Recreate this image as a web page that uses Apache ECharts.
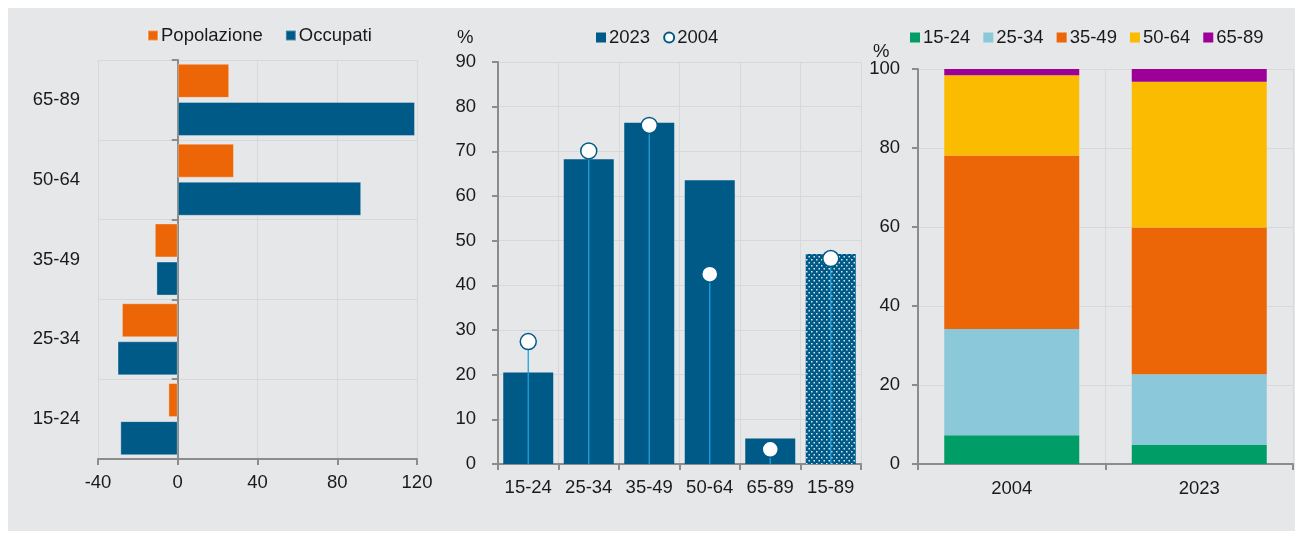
<!DOCTYPE html>
<html>
<head>
<meta charset="utf-8">
<script src="https://cdn.jsdelivr.net/npm/echarts@6/dist/echarts.min.js"></script>
<style>
html,body{margin:0;padding:0;background:#fff;}
#c{width:1295px;height:533px;}
</style>
</head>
<body>
<div id="c"></div>
<script>
// ---- Data ----
const ageGroups = ['15-24', '25-34', '35-49', '50-64', '65-89'];
const popolazione = [-4.7, -28, -11.5, 28.2, 25.8];
const occupati = [-28.8, -30.2, -10.7, 92, 119];
const xTicks1 = [-40, 0, 40, 80, 120];

const rateCats = ['15-24', '25-34', '35-49', '50-64', '65-89', '15-89'];
const rate2023 = [20.5, 68.2, 76.4, 63.5, 5.7, 47.0];
const rate2004 = [27.4, 70.1, 75.8, 42.5, 3.3, 46.0];

const years = ['2004', '2023'];
const share1524 = [7.3, 4.8];
const share2534 = [26.9, 17.9];
const share3549 = [43.9, 37.2];
const share5064 = [20.3, 36.9];
const share6589 = [1.6, 3.2];

// ---- Styles ----
const BLUE = '#005a87', ORANGE = '#ec6608', GREEN = '#009e66', LBLUE = '#8bc9da',
      YELLOW = '#fbbb00', PURPLE = '#9c0096', STEM = '#21a1dc';
const AXIS = '#8c8c8c', GRID = '#d7d8db', BG = '#e6e7e9', TXT = '#1a1a1a';
const FONT = 'Liberation Sans, Arial, sans-serif';
const FS = 18.5;

// dotted pattern for the total bar
const pat = document.createElement('canvas');
pat.width = 5; pat.height = 6;
const pc = pat.getContext('2d');
pc.fillStyle = BLUE; pc.fillRect(0, 0, 5, 6);
pc.fillStyle = 'rgba(255,255,255,0.85)';
pc.fillRect(1, 1, 1.5, 1.5);
pc.fillRect(3.5, 4, 1.5, 1.5);

const chart = echarts.init(document.getElementById('c'), null, {renderer: 'canvas'});

const lbl = {color: TXT, fontSize: FS, fontFamily: FONT};
const axLine = {show: true, lineStyle: {color: AXIS, width: 2}};
const axTick = {show: true, length: 6, lineStyle: {color: AXIS, width: 2}};
const split = {show: true, lineStyle: {color: GRID, width: 1}};
const catTick = {...axTick, interval: 0};
const catSplit = {...split, interval: 0};

const option = {
  animation: false,
  textStyle: {fontFamily: FONT},
  graphic: [
    {type: 'rect', shape: {x: 8, y: 8, width: 1287, height: 523}, style: {fill: BG}, z: -10, silent: true},
    {type: 'text', left: 457, top: 28, style: {text: '%', fontSize: FS, fontFamily: FONT, fill: TXT}},
    {type: 'text', left: 873, top: 42, style: {text: '%', fontSize: FS, fontFamily: FONT, fill: TXT}}
  ],
  legend: [
    {left: 147, top: 26, padding: 0, itemWidth: 10, itemHeight: 10, itemGap: 22,
     textStyle: {...lbl, padding: [0, 0, 0, -2]},
     data: [{name: 'Popolazione', icon: 'rect'}, {name: 'Occupati', icon: 'rect'}]},
    {left: 596, top: 28, padding: 0, itemWidth: 10, itemHeight: 10, itemGap: 13,
     textStyle: {...lbl, padding: [0, 0, 0, -2]},
     data: [{name: '2023', icon: 'rect'}, {name: '2004', icon: 'circle'}]},
    {left: 910, top: 28, padding: 0, itemWidth: 10, itemHeight: 10, itemGap: 13,
     textStyle: {...lbl, padding: [0, 0, 0, -2]},
     data: ageGroups.map(n => ({name: n, icon: 'rect'}))}
  ],
  grid: [
    {left: 98, top: 60, width: 319, height: 399},
    {left: 498, top: 62, width: 363, height: 402},
    {left: 918, top: 69, width: 375, height: 395}
  ],
  xAxis: [
    {type: 'value', gridIndex: 0, min: -40, max: 120, interval: 40,
     axisLine: {...axLine, onZero: false}, axisTick: axTick, splitLine: split,
     axisLabel: {...lbl, margin: 14, formatter: v => xTicks1.includes(v) ? String(v) : ''}},
    {type: 'category', gridIndex: 1, data: rateCats, boundaryGap: true,
     axisLine: axLine, axisTick: catTick, splitLine: catSplit,
     axisLabel: {...lbl, margin: 14, interval: 0}},
    {type: 'category', gridIndex: 2, data: years, boundaryGap: true,
     axisLine: axLine, axisTick: catTick, splitLine: catSplit,
     axisLabel: {...lbl, margin: 15, interval: 0}}
  ],
  yAxis: [
    {type: 'category', gridIndex: 0, data: ageGroups,
     axisLine: {show: false, onZero: false}, axisTick: {show: false}, splitLine: catSplit,
     axisLabel: {...lbl, margin: 18, interval: 0}},
    {type: 'category', gridIndex: 0, data: ageGroups, position: 'left',
     axisLine: {...axLine, onZero: true}, axisTick: catTick, splitLine: {show: false},
     axisLabel: {show: false}},
    {type: 'value', gridIndex: 1, min: 0, max: 90, interval: 10,
     axisLine: axLine, axisTick: axTick, splitLine: split,
     axisLabel: {...lbl, margin: 22}},
    {type: 'value', gridIndex: 2, min: 0, max: 100, interval: 20,
     axisLine: axLine, axisTick: axTick, splitLine: split,
     axisLabel: {...lbl, margin: 18}}
  ],
  series: [
    {name: 'Popolazione', type: 'bar', xAxisIndex: 0, yAxisIndex: 0, data: popolazione,
     barWidth: 34, barGap: '12%',
     itemStyle: {color: ORANGE, borderColor: 'rgba(255,255,255,0.3)', borderWidth: 1}},
    {name: 'Occupati', type: 'bar', xAxisIndex: 0, yAxisIndex: 0, data: occupati,
     barWidth: 34, barGap: '12%',
     itemStyle: {color: BLUE, borderColor: 'rgba(255,255,255,0.3)', borderWidth: 1}},

    {name: '2023', type: 'bar', xAxisIndex: 1, yAxisIndex: 2, barWidth: 50,
     itemStyle: {color: BLUE},
     data: rate2023.map((v, i) => i === rate2023.length - 1
        ? {value: v, itemStyle: {color: {image: pat, repeat: 'repeat'}}} : v)},
    {name: 'stem2004', type: 'custom', xAxisIndex: 1, yAxisIndex: 2, z: 3,
     data: rate2004.map((v, i) => [i, v]), encode: {x: 0, y: 1},
     renderItem: function (params, api) {
       const p0 = api.coord([api.value(0), 0]);
       const p1 = api.coord([api.value(0), api.value(1)]);
       return {type: 'line', shape: {x1: p0[0], y1: p0[1], x2: p1[0], y2: p1[1]},
               style: {stroke: STEM, lineWidth: 1.3}};
     }},
    {name: '2004', type: 'scatter', xAxisIndex: 1, yAxisIndex: 2, z: 4, data: rate2004,
     symbol: 'circle', symbolSize: 16,
     itemStyle: {color: '#ffffff', borderColor: BLUE, borderWidth: 1.5, opacity: 1}},

    {name: '15-24', type: 'bar', stack: 's', xAxisIndex: 2, yAxisIndex: 3, barWidth: 135, data: share1524, itemStyle: {color: GREEN}},
    {name: '25-34', type: 'bar', stack: 's', xAxisIndex: 2, yAxisIndex: 3, barWidth: 135, data: share2534, itemStyle: {color: LBLUE}},
    {name: '35-49', type: 'bar', stack: 's', xAxisIndex: 2, yAxisIndex: 3, barWidth: 135, data: share3549, itemStyle: {color: ORANGE}},
    {name: '50-64', type: 'bar', stack: 's', xAxisIndex: 2, yAxisIndex: 3, barWidth: 135, data: share5064, itemStyle: {color: YELLOW}},
    {name: '65-89', type: 'bar', stack: 's', xAxisIndex: 2, yAxisIndex: 3, barWidth: 135, data: share6589, itemStyle: {color: PURPLE}}
  ]
};
chart.setOption(option);
</script>
</body>
</html>
